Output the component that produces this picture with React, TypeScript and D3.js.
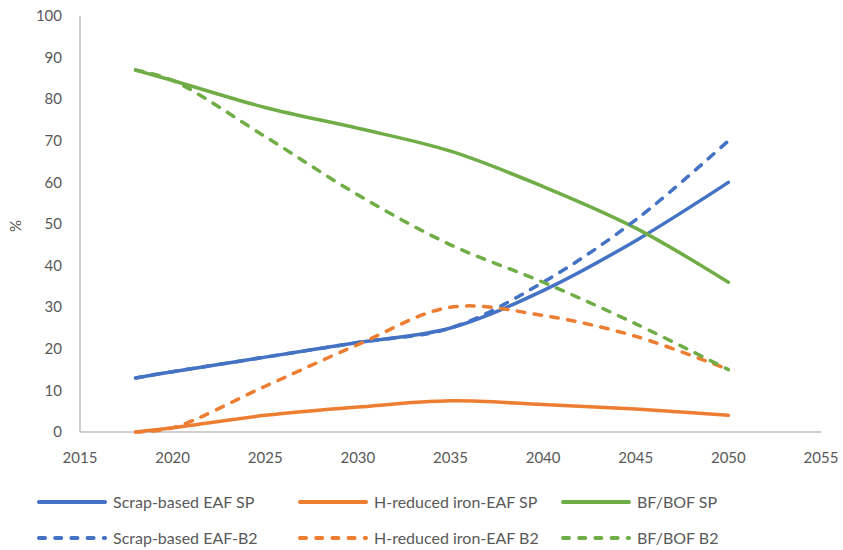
import React from "react";
import * as d3 from "d3";

const years = [2018, 2020, 2025, 2030, 2035, 2040, 2045, 2050];
const scrapSP = [13, 14.5, 18, 21.5, 25, 34, 46, 60];
const hIronSP = [0, 1, 4, 6, 7.5, 6.6, 5.5, 4];
const bfbofSP = [87, 84.5, 78, 73, 67.5, 59, 49, 36];
const scrapB2 = [13, 14.5, 18, 21.5, 25, 36, 51, 70];
const hIronB2 = [0, 1, 11, 21, 30, 28, 23, 15];
const bfbofB2 = [87, 84.5, 71, 57, 45, 36, 26, 15];

const xTicks = [2015, 2020, 2025, 2030, 2035, 2040, 2045, 2050, 2055];
const yTicks = [0, 10, 20, 30, 40, 50, 60, 70, 80, 90, 100];

const series = [
  { name: "Scrap-based EAF SP", values: scrapSP, color: "#4472C4", dashed: false },
  { name: "H-reduced iron-EAF SP", values: hIronSP, color: "#ED7D31", dashed: false },
  { name: "BF/BOF SP", values: bfbofSP, color: "#70AD47", dashed: false },
  { name: "Scrap-based EAF-B2", values: scrapB2, color: "#4472C4", dashed: true },
  { name: "H-reduced iron-EAF B2", values: hIronB2, color: "#ED7D31", dashed: true },
  { name: "BF/BOF B2", values: bfbofB2, color: "#70AD47", dashed: true },
];

const W = 843;
const H = 550;
const FONT = "Lato, 'Open Sans', sans-serif";
const TXT = "#595959";

export default function App() {
  const x = d3.scaleLinear().domain([2015, 2055]).range([80, 821]);
  const y = d3.scaleLinear().domain([0, 100]).range([432, 16]);
  const line = d3
    .line<number>()
    .x((_, i) => x(years[i]))
    .y((d) => y(d))
    .curve(d3.curveCatmullRom.alpha(0.5));

  const legendCols = [37, 298, 561];
  const legendRows = [502, 538];

  return (
    <svg width={W} height={H} style={{ position: "absolute", left: 0, top: 0 }}>
      <rect width={W} height={H} fill="#fff" />
      <line x1={x(2015)} x2={x(2015)} y1={y(100)} y2={y(0)} stroke="#BFBFBF" strokeWidth={1.5} />
      <line x1={x(2015)} x2={x(2055)} y1={y(0)} y2={y(0)} stroke="#BFBFBF" strokeWidth={1.5} />
      {yTicks.map((t) => (
        <text key={t} x={62} y={y(t)} dy="0.35em" textAnchor="end" fontFamily={FONT} fontSize={15} fill={TXT}>
          {t}
        </text>
      ))}
      {xTicks.map((t) => (
        <text key={t} x={x(t)} y={458} dy="0.35em" textAnchor="middle" fontFamily={FONT} fontSize={15} fill={TXT}>
          {t}
        </text>
      ))}
      <text
        transform={`translate(21,${y(50) + 2}) rotate(-90)`}
        textAnchor="middle"
        fontFamily={FONT}
        fontSize={15}
        fill={TXT}
      >
        %
      </text>
      {series.map((s) => (
        <path
          key={s.name}
          d={line(s.values) || ""}
          fill="none"
          stroke={s.color}
          strokeWidth={3.5}
          strokeLinecap="round"
          strokeLinejoin="round"
          strokeDasharray={s.dashed ? "7.5 9.5" : undefined}
        />
      ))}
      {series.map((s, i) => {
        const lx = legendCols[i % 3];
        const ly = legendRows[Math.floor(i / 3)];
        return (
          <g key={s.name}>
            <line
              x1={lx + 2}
              x2={lx + 68}
              y1={ly}
              y2={ly}
              stroke={s.color}
              strokeWidth={4}
              strokeLinecap="round"
              strokeDasharray={s.dashed ? "6 10.2" : undefined}
            />
            <text x={lx + 76} y={ly} dy="0.35em" fontFamily={FONT} fontSize={16} fill={TXT}>
              {s.name}
            </text>
          </g>
        );
      })}
    </svg>
  );
}
